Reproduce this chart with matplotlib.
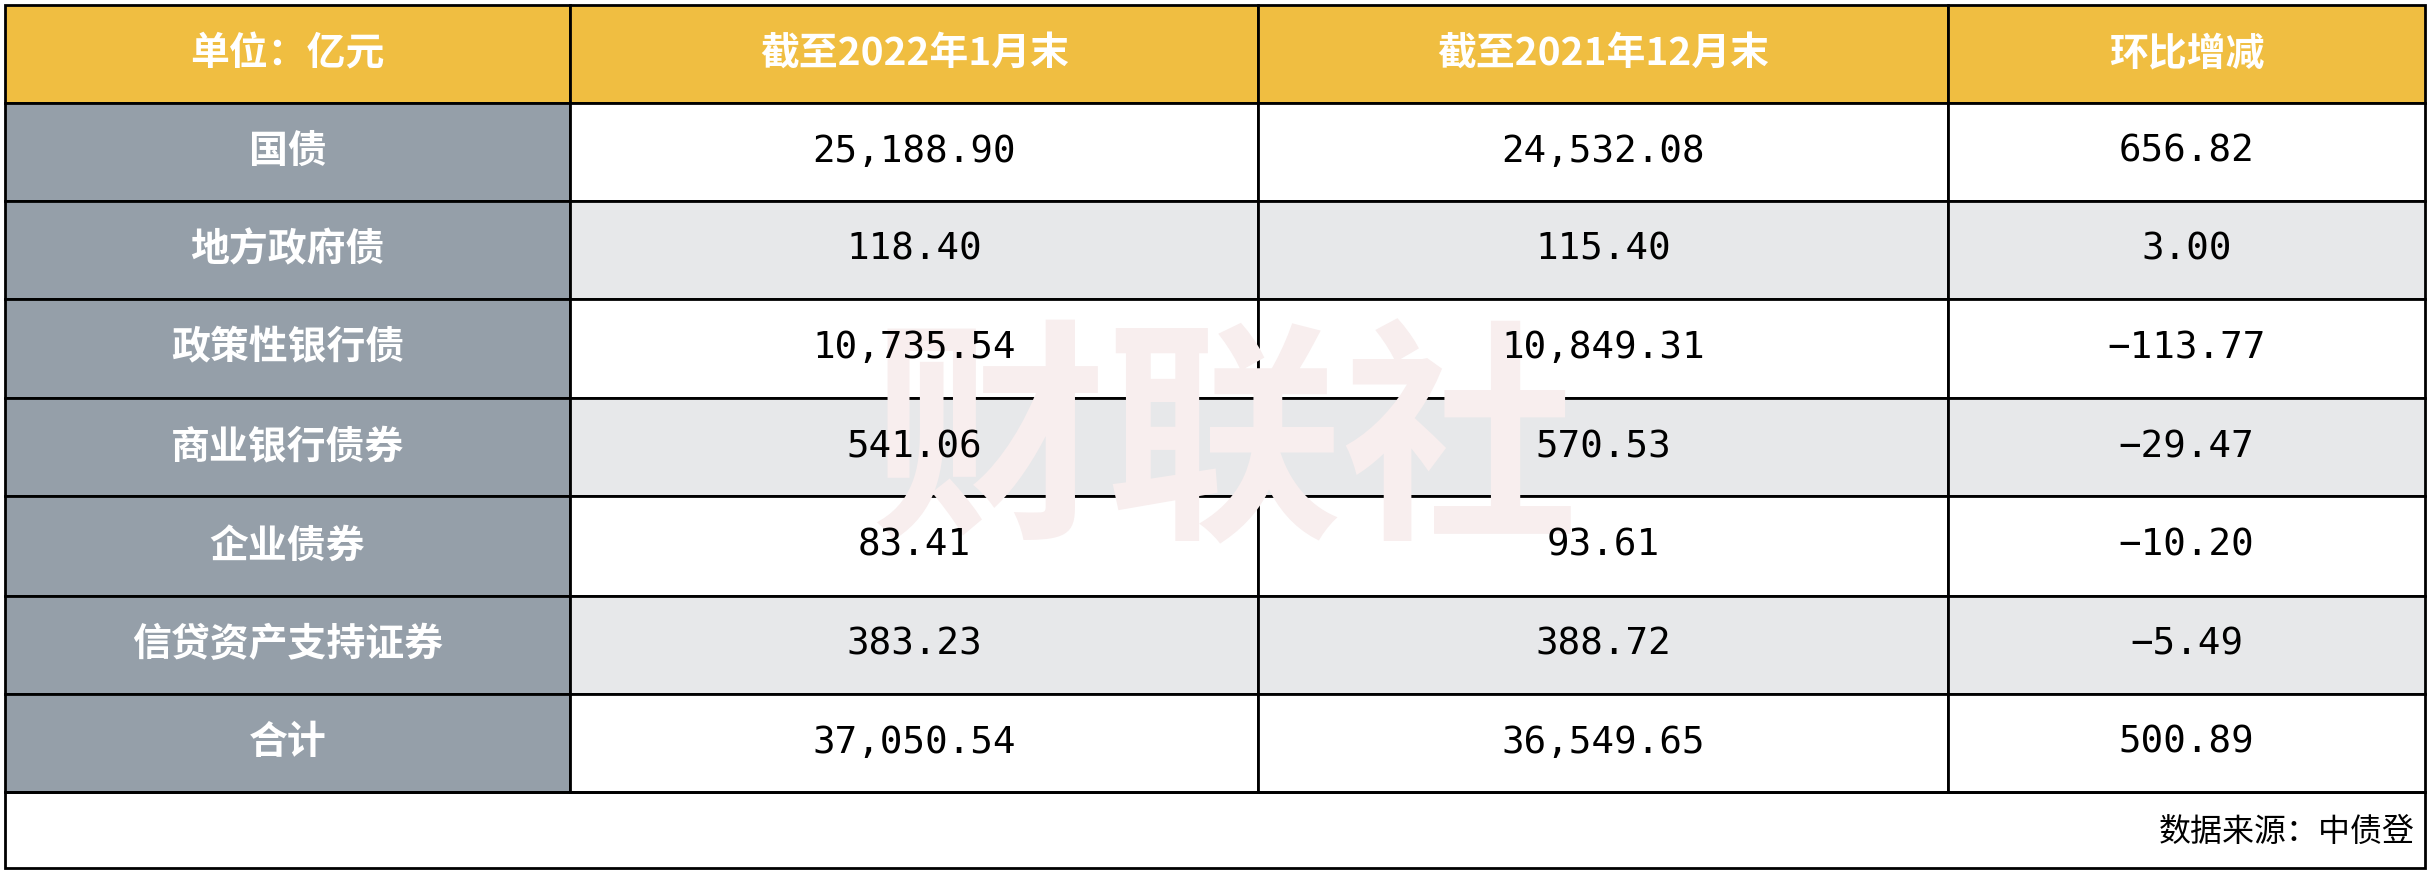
import matplotlib.pyplot as plt
from matplotlib.patches import Rectangle

plt.rcParams['font.family'] = ['Noto Sans CJK SC', 'DejaVu Sans']

header = ['单位：亿元', '截至2022年1月末', '截至2021年12月末', '环比增减']
categories = ['国债', '地方政府债', '政策性银行债', '商业银行债券', '企业债券', '信贷资产支持证券', '合计']
jan_2022 = ['25,188.90', '118.40', '10,735.54', '541.06', '83.41', '383.23', '37,050.54']
dec_2021 = ['24,532.08', '115.40', '10,849.31', '570.53', '93.61', '388.72', '36,549.65']
change = ['656.82', '3.00', '-113.77', '-29.47', '-10.20', '-5.49', '500.89']
source = '数据来源：中债登'

fig = plt.figure(figsize=(24.3, 8.74), dpi=100)
ax = fig.add_axes([0, 0, 1, 1])
ax.set_xlim(0, 1568)
ax.set_ylim(562, 0)
ax.axis('off')

cols = [3, 368, 812, 1257, 1565]
rows = [3, 66, 129, 192, 256, 319, 383, 446, 509]
bottom = 558
fs = 28

# watermark
ax.text(790, 290, '财联社', fontsize=170, color='#F8EEEE', ha='center', va='center',
        fontweight='bold', zorder=1)

for j in range(4):
    ax.add_patch(Rectangle((cols[j], rows[0]), cols[j+1]-cols[j], rows[1]-rows[0],
                           facecolor='#F0BE41', edgecolor='black', lw=2, zorder=0))
    ax.text((cols[j]+cols[j+1])/2, (rows[0]+rows[1])/2, header[j], color='white',
            fontsize=fs, fontweight='bold', ha='center', va='center', zorder=3)

for i, cat in enumerate(categories):
    y0, y1 = rows[i+1], rows[i+2]
    bg = 'white' if i % 2 == 0 else '#E7E8EA'
    ax.add_patch(Rectangle((cols[0], y0), cols[1]-cols[0], y1-y0,
                           facecolor='#959FA9', edgecolor='black', lw=2, zorder=0))
    ax.text((cols[0]+cols[1])/2, (y0+y1)/2, cat, color='white', fontsize=fs,
            fontweight='bold', ha='center', va='center', zorder=3)
    vals = [jan_2022[i], dec_2021[i], change[i]]
    for j in range(3):
        ax.add_patch(Rectangle((cols[j+1], y0), cols[j+2]-cols[j+1], y1-y0,
                               facecolor=bg, edgecolor='black', lw=2, zorder=0))
        ax.text((cols[j+1]+cols[j+2])/2, (y0+y1)/2, vals[j].replace('-', '−'),
                fontsize=27, family='DejaVu Sans Mono', ha='center', va='center',
                zorder=3, color='black')

ax.add_patch(Rectangle((cols[0], rows[-1]), cols[-1]-cols[0], bottom-rows[-1],
                       facecolor='none', edgecolor='black', lw=2, zorder=2))
ax.text(1558, 535, source, fontsize=23, ha='right', va='center', zorder=3)

fig.savefig('out.png', dpi=100)
